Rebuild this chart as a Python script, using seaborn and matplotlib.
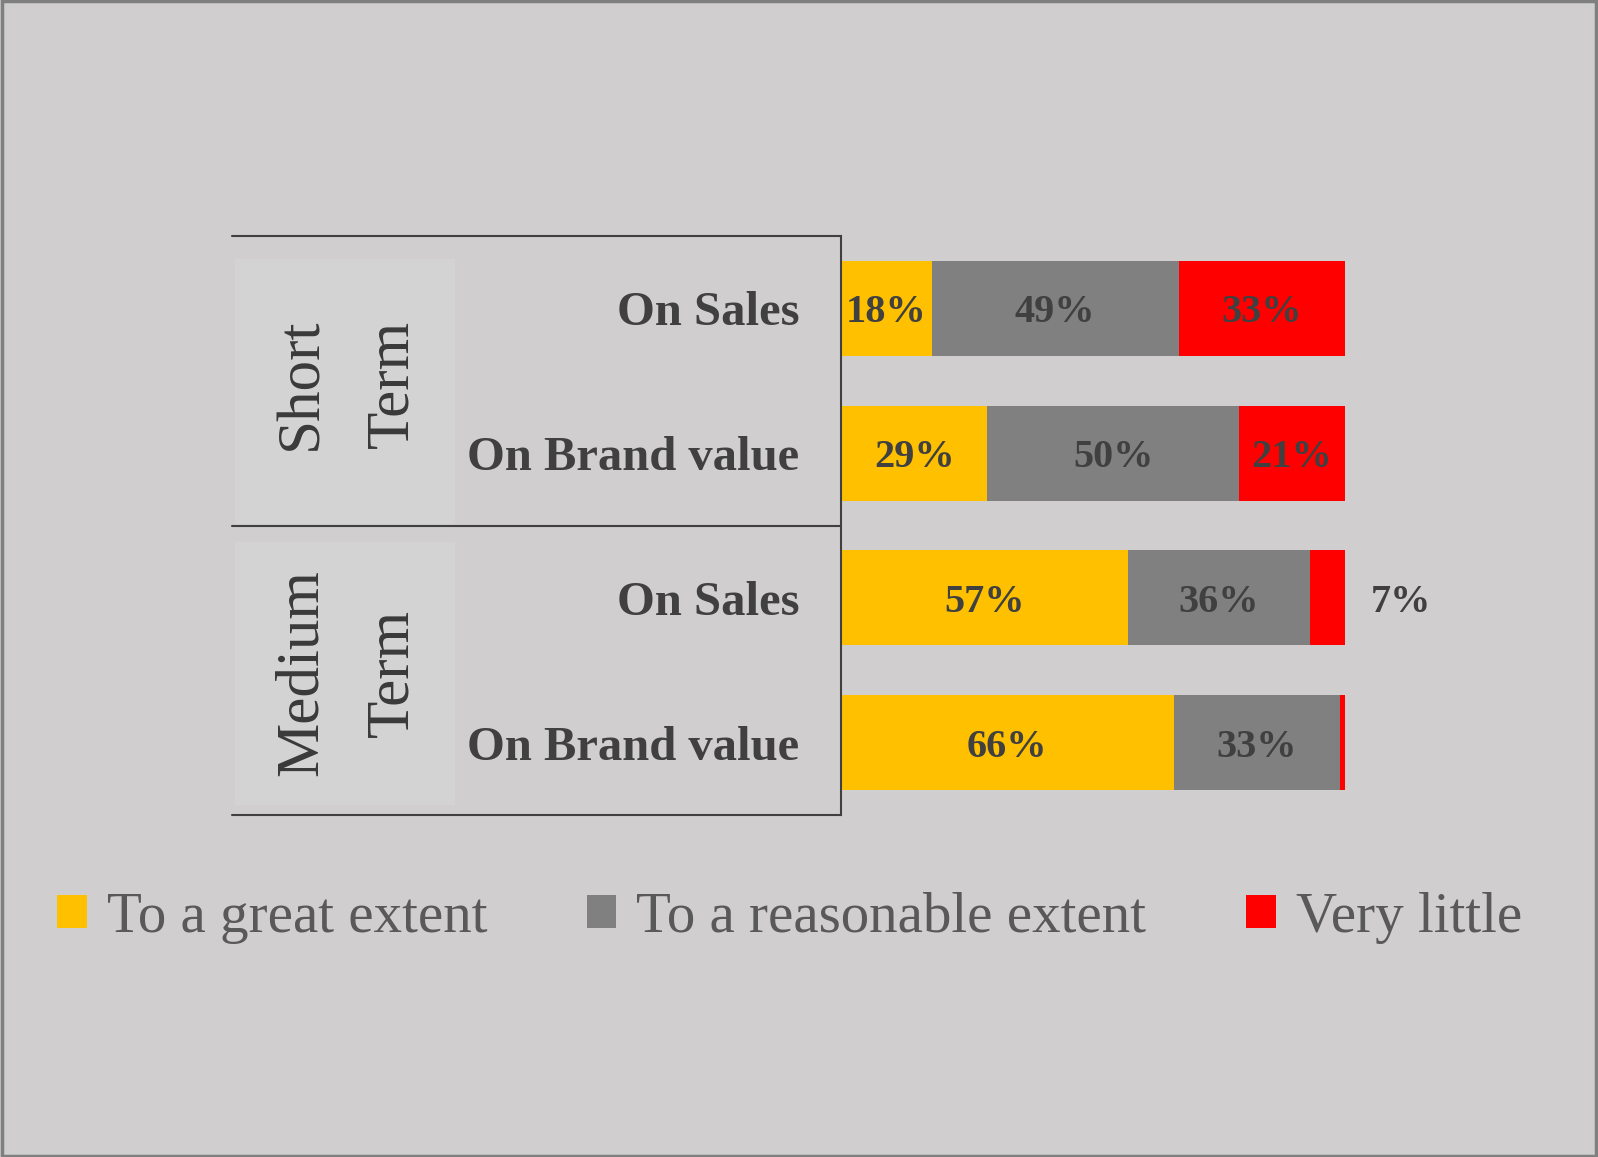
import matplotlib
matplotlib.use("Agg")
from matplotlib import pyplot as plt
from matplotlib.patches import Rectangle
import numpy as np
import seaborn as sns

sns.set_theme(style="white")
plt.rcParams['font.family'] = ['Liberation Serif', 'DejaVu Serif']

# 数据
groups = ["Short\nTerm", "Medium\nTerm"]
rows = ["On Sales", "On Brand value", "On Sales", "On Brand value"]
row_keys = ["st_sales", "st_brand", "mt_sales", "mt_brand"]
series = ["To a great extent", "To a reasonable extent", "Very little"]
great = [18, 29, 57, 66]
reasonable = [49, 50, 36, 33]
little = [33, 21, 7, 1]
colors = ["#FFC000", "#808080", "#FF0000"]

bg = "#D0CECE"
txt = "#404040"

fig = plt.figure(figsize=(15.98, 11.57), dpi=100, facecolor=bg)
ax = fig.add_axes([841 / 1598, 1 - 815 / 1157, 504 / 1598, (815 - 236) / 1157])
ax.set_facecolor(bg)

vals = np.array([great, reasonable, little], dtype=float)
cum = np.cumsum(vals, axis=0)

# 叠加画：先画总长，再画前面的部分
for i in [2, 1, 0]:
    sns.barplot(x=cum[i], y=row_keys, orient="h", color=colors[i], saturation=1,
                width=0.655, linewidth=0, ax=ax, label=series[i])

ax.set_xlim(0, 100)
ax.set_ylim(3.5, -0.5)
ax.set_xlabel("")
ax.set_ylabel("")
ax.set_xticks([])
ax.set_yticks(range(len(rows)))
ax.set_yticklabels(rows, fontsize=35, fontweight="bold", color=txt)
ax.tick_params(axis="y", length=0, pad=30)
for s in ["top", "right", "bottom"]:
    ax.spines[s].set_visible(False)
ax.spines["left"].set_color("#404040")
ax.spines["left"].set_linewidth(1.5)
if ax.get_legend() is not None:
    ax.get_legend().remove()

# 数据标签
for r in range(len(rows)):
    for i in range(3):
        v = vals[i, r]
        if v < 5:
            continue
        if v < 10:
            x = 111
        else:
            x = cum[i, r] - v / 2
        ax.text(x, r, f"{int(v)}%", ha="center", va="center_baseline", fontsize=29,
                fontweight="bold", color=txt, clip_on=False)

# 分组框线
tr = ax.get_yaxis_transform()
x0 = (232 - 841) / 504
for yy in [-0.5, 1.5, 3.5]:
    ax.plot([x0, 0], [yy, yy], transform=tr, color="#404040", lw=1.5, clip_on=False)

# 分组标签
for g, (ytop, ybot, yc_px) in enumerate([(259, 524, 384), (542, 805, 673)]):
    fig.patches.append(Rectangle((235 / 1598, 1 - ybot / 1157), (455 - 235) / 1598,
                                 (ybot - ytop) / 1157, transform=fig.transFigure,
                                 facecolor="#D3D3D3", edgecolor="none", zorder=0))
    yc = 1 - yc_px / 1157
    first, second = groups[g].split("\n")
    fig.text(302 / 1598, yc, first, rotation=90, ha="center", va="center",
             fontsize=44, color="#3A3A3A")
    fig.text(393 / 1598, yc, second, rotation=90, ha="center", va="center",
             fontsize=44, color="#3A3A3A")

# 图例
handles = [Rectangle((0, 0), 1, 1, facecolor=c, edgecolor="none") for c in colors]
fig.legend(handles, series, loc="center", bbox_to_anchor=(0.494, 1 - 918 / 1157),
           ncol=3, frameon=False, fontsize=41, labelcolor="#595959",
           handlelength=0.52, handleheight=0.52, handletextpad=0.35, columnspacing=1.75)

# 外框
fig.patches.append(Rectangle((0.001, 0.001), 0.998, 0.998, transform=fig.transFigure,
                             facecolor="none", edgecolor="#7F7F7F", lw=2.5))

plt.savefig("out.png", dpi=100, facecolor=bg)
